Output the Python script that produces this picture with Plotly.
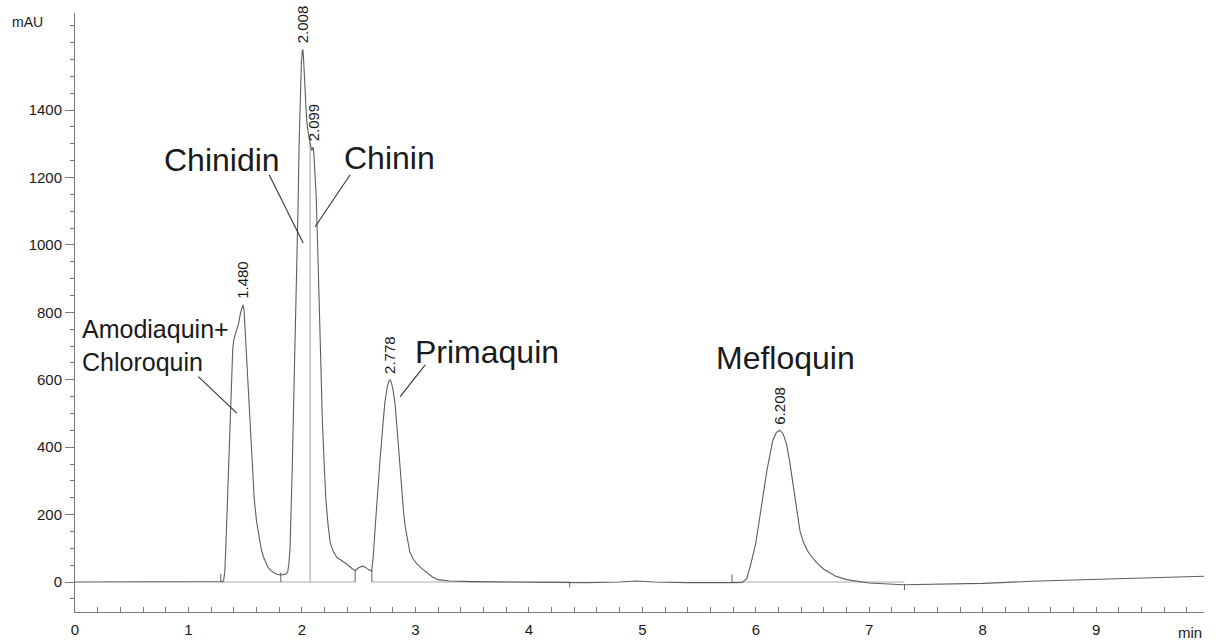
import plotly.graph_objects as go

# ---- chromatogram trace (time in min, signal in mAU) ----
time_min = [0.00, 0.50, 1.00, 1.25, 1.30, 1.31, 1.32, 1.33, 1.34, 1.35, 1.36, 1.37, 1.38, 1.39,
            1.40, 1.42, 1.44, 1.46, 1.47, 1.48, 1.49, 1.50, 1.51, 1.52, 1.53, 1.54, 1.55, 1.56,
            1.57, 1.58, 1.60, 1.62, 1.64, 1.66, 1.68, 1.70, 1.72, 1.75, 1.78, 1.81, 1.84, 1.86,
            1.875, 1.885, 1.895, 1.905, 1.915, 1.925, 1.935, 1.945, 1.955, 1.965, 1.975, 1.985,
            1.995, 2.003, 2.008, 2.013, 2.02, 2.03, 2.04, 2.05, 2.06, 2.07, 2.08, 2.087, 2.093,
            2.099, 2.105, 2.115, 2.125, 2.14, 2.155, 2.165, 2.18, 2.195, 2.21, 2.23, 2.25, 2.28,
            2.31, 2.34, 2.37, 2.40, 2.44, 2.47, 2.50, 2.53, 2.56, 2.59, 2.615, 2.63, 2.645, 2.66,
            2.675, 2.69, 2.71, 2.73, 2.75, 2.765, 2.778, 2.79, 2.805, 2.82, 2.835, 2.85, 2.865,
            2.88, 2.895, 2.91, 2.93, 2.95, 2.98, 3.01, 3.05, 3.10, 3.15, 3.20, 3.30, 3.50, 4.00,
            4.30, 4.50, 4.80, 4.95, 5.10, 5.40, 5.80, 5.88, 5.92, 5.95, 6.00, 6.05, 6.10, 6.15,
            6.18, 6.21, 6.24, 6.27, 6.30, 6.33, 6.36, 6.39, 6.42, 6.46, 6.50, 6.55, 6.60, 6.65,
            6.70, 6.80, 6.90, 7.00, 7.30, 7.60, 8.00, 8.50, 9.00, 9.50, 9.95]
signal_mau = [0, 0, 0, 0, 1, 5, 30, 110, 215, 320, 430, 530, 620, 690,
              720, 740, 765, 800, 815, 822, 805, 740, 670, 600, 530, 465, 400, 340,
              290, 245, 180, 135, 100, 75, 57, 44, 36, 28, 23, 21, 22, 24,
              30, 55, 100, 200, 340, 500, 640, 770, 900, 1100, 1300, 1450,
              1540, 1575, 1580, 1560, 1500, 1430, 1380, 1345, 1320, 1305, 1290, 1280, 1286,
              1290, 1270, 1200, 1150, 980, 780, 640, 480, 360, 250, 170, 115, 88,
              72, 66, 60, 52, 40, 34, 42, 47, 44, 36, 33, 80, 160, 240,
              310, 370, 450, 530, 575, 595, 600, 590, 565, 530, 470, 400, 330,
              270, 210, 165, 120, 90, 68, 55, 42, 28, 15, 7, 3, 1, 0,
              -2, -2, 0, 3, 0, -2, -2, -1, 10, 45, 115, 225, 335, 420,
              443, 450, 440, 410, 355, 285, 210, 150, 118, 90, 72, 52, 38, 27,
              18, 7, 1, -3, -8, -7, -4, 3, 8, 13, 17]

# ---- integration baselines (start, end) at 0 mAU ----
baseline_start = [1.285, 1.814, 2.616, 5.79]
baseline_end = [1.814, 2.469, 4.36, 7.31]
# integration marks (time, bottom, top)
mark_time = [1.285, 1.814, 2.469, 2.616, 4.36, 5.79, 7.31]
mark_low = [0, 0, 0, 0, -16, 0, -24]
mark_high = [24, 28, 34, 33, 0, 22, -6]
# drop line between 2.008 and 2.099
drop_time = 2.072
drop_top = 1303

# ---- peak labels ----
peak_times = [1.480, 2.008, 2.099, 2.778, 6.208]
peak_labels = ["1.480", "2.008", "2.099", "2.778", "6.208"]
peak_heights = [822, 1580, 1290, 600, 450]

# ---- compound names (text, x, y) and their leader lines ----
names = ["Chinidin", "Chinin", "Primaquin", "Mefloquin"]
name_x = [1.296, 2.769, 3.633, 6.261]
name_y = [1252, 1258, 682, 665]
amod_text = "Amodiaquin+<br>Chloroquin"
amod_x, amod_y = 0.044, 703
leader_x0 = [1.711, 2.425, 3.086, 1.087]
leader_y0 = [1208, 1208, 644, 609]
leader_x1 = [2.011, 2.116, 2.866, 1.426]
leader_y1 = [1006, 1054, 550, 501]

y_ticks = [0, 200, 400, 600, 800, 1000, 1200, 1400]
x_ticks = [0, 1, 2, 3, 4, 5, 6, 7, 8, 9]

CURVE = "#5e5e5e"
BASE = "#ababab"
AXIS = "#7a7a7a"
TXT = "#1a1a1a"
FONT = "Liberation Sans, Arial, Helvetica, sans-serif"

fig = go.Figure()

# baselines
bx, by = [], []
for s, e in zip(baseline_start, baseline_end):
    bx += [s, e, None]
    by += [0, 0, None]
fig.add_trace(go.Scatter(x=bx, y=by, mode="lines", line=dict(color=BASE, width=1),
                         hoverinfo="skip", showlegend=False))
# drop line
fig.add_trace(go.Scatter(x=[drop_time, drop_time], y=[0, drop_top], mode="lines",
                         line=dict(color=BASE, width=1.2), hoverinfo="skip", showlegend=False))
# integration marks
mx, my = [], []
for t, lo, hi in zip(mark_time, mark_low, mark_high):
    mx += [t, t, None]
    my += [lo, hi, None]
fig.add_trace(go.Scatter(x=mx, y=my, mode="lines", line=dict(color=CURVE, width=1),
                         hoverinfo="skip", showlegend=False))
# chromatogram
fig.add_trace(go.Scatter(x=time_min, y=signal_mau, mode="lines",
                         line=dict(color=CURVE, width=1.1), showlegend=False))

# leader lines
for x0, y0, x1, y1 in zip(leader_x0, leader_y0, leader_x1, leader_y1):
    fig.add_shape(type="line", x0=x0, y0=y0, x1=x1, y1=y1, xref="x", yref="y",
                  line=dict(color="#333333", width=1.1))

# peak retention-time labels
for t, lab, h in zip(peak_times, peak_labels, peak_heights):
    fig.add_annotation(x=t, y=h, text=lab, textangle=-90, showarrow=False,
                       xanchor="center", yanchor="bottom", yshift=4,
                       font=dict(family=FONT, size=15, color=TXT))

# compound names
for n, x, y in zip(names, name_x, name_y):
    fig.add_annotation(x=x, y=y, text=n, showarrow=False, xanchor="center", yanchor="middle",
                       font=dict(family=FONT, size=32, color=TXT))
fig.add_annotation(x=amod_x, y=amod_y, text=amod_text, showarrow=False, xanchor="left",
                   yanchor="middle", align="left",
                   font=dict(family=FONT, size=25, color=TXT))

# axis unit labels
fig.add_annotation(x=-0.0576, y=0.985, xref="paper", yref="paper", text="mAU", showarrow=False,
                   xanchor="left", yanchor="middle", font=dict(family=FONT, size=14, color=TXT))
fig.add_annotation(x=1.0, y=-0.035, xref="paper", yref="paper", text="min", showarrow=False,
                   xanchor="right", yanchor="middle", font=dict(family=FONT, size=15, color=TXT))

fig.update_layout(
    width=1219, height=641,
    margin=dict(l=75, r=15, t=13, b=29),
    paper_bgcolor="white", plot_bgcolor="white",
    font=dict(family=FONT, size=15, color=TXT),
    xaxis=dict(range=[0, 9.95], showgrid=False, zeroline=False, showline=True,
               automargin=False, ticklabelstandoff=4,
               linecolor=AXIS, linewidth=1, ticks="inside", ticklen=5, tickcolor=AXIS,
               tickvals=x_ticks, ticktext=[str(v) for v in x_ticks],
               tickfont=dict(family=FONT, size=15, color=TXT),
               minor=dict(dtick=0.2, tick0=0, ticks="inside", ticklen=5, tickcolor=AXIS)),
    yaxis=dict(range=[-89, 1688], showgrid=False, zeroline=False, showline=True,
               automargin=False,
               linecolor=AXIS, linewidth=1, ticks="outside", ticklen=9, tickcolor=AXIS,
               tickvals=y_ticks, ticktext=[str(v) for v in y_ticks],
               tickfont=dict(family=FONT, size=15, color=TXT),
               minor=dict(dtick=50, tick0=0, ticks="outside", ticklen=4, tickcolor=AXIS)),
)

fig.write_html("out.html", config={"displayModeBar": False},
               post_script="document.body.style.margin='0';document.body.style.overflow='hidden';")
